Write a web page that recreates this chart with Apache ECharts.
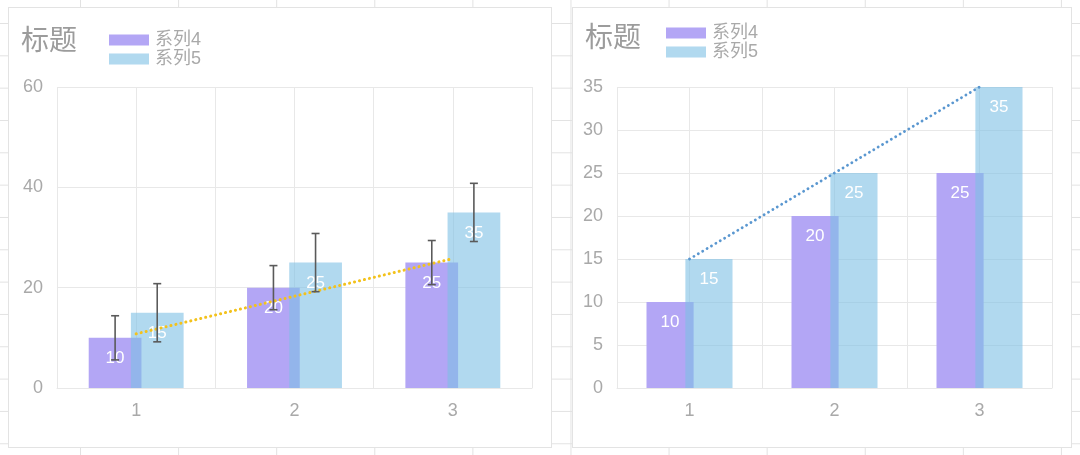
<!DOCTYPE html>
<html><head><meta charset="utf-8">
<script src="https://cdn.jsdelivr.net/npm/echarts@6/dist/echarts.min.js"></script>
<style>
html,body{margin:0;padding:0;width:1080px;height:455px;overflow:hidden;}
body{background-color:#fff;background-image:linear-gradient(to right,#e2e2e2 1px,transparent 1px),linear-gradient(to bottom,#e2e2e2 1px,transparent 1px);background-size:98.1px 32.33px;background-position:80px 23px;}
.card{position:absolute;background:#fff;border:1px solid #e3e3e3;box-sizing:border-box;}
#chart{position:absolute;left:0;top:0;width:1080px;height:455px;}
</style></head>
<body>
<div class="card" style="left:8px;top:7px;width:544px;height:441px"></div>
<div class="card" style="left:572px;top:7px;width:500px;height:441px"></div>
<div id="chart"></div>
<script>
// ---- data ----
const categories = ['1', '2', '3'];
const seriesNames = ['系列4', '系列5'];
const titleText = '标题';
// left chart
const leftSeries4 = [10, 20, 25];
const leftSeries5 = [15, 25, 35];
const leftErr4 = [4.4, 4.4, 4.4];
const leftErr5 = [5.8, 5.8, 5.8];
const leftTrend4 = [10.8, 18.3, 25.8];
const leftYTicks = [0, 20, 40, 60];
// right chart
const rightSeries4 = [10, 20, 25];
const rightSeries5 = [15, 25, 35];
const rightTrend5 = [15, 25, 35];
const rightYTicks = [0, 5, 10, 15, 20, 25, 30, 35];

// ---- styles ----
const FONT = '"Liberation Sans", "Noto Sans CJK SC", sans-serif';
const PURPLE = '#b3a6f5';
const BLUE = 'rgba(125,192,228,0.6)';
const GRIDC = '#e8e8e8';
const LABELC = '#a9a9a9';

function yAxisFrom(ticks, gridIndex) {
  return {
    type: 'value', gridIndex,
    min: ticks[0], max: ticks[ticks.length - 1], interval: ticks[1] - ticks[0],
    axisLine: { show: false }, axisTick: { show: false },
    axisLabel: { color: LABELC, fontSize: 18, fontFamily: FONT, margin: 14 },
    splitLine: { lineStyle: { color: GRIDC, width: 1 } }
  };
}
function catAxis(gridIndex) {
  return {
    type: 'category', gridIndex, data: categories,
    axisLine: { lineStyle: { color: GRIDC } }, axisTick: { show: false },
    axisLabel: { color: LABELC, fontSize: 18, fontFamily: FONT, margin: 14 },
    splitLine: { show: false }
  };
}
function helperAxis(gridIndex) {
  return {
    type: 'value', gridIndex, position: 'bottom',
    min: 0.5, max: categories.length + 0.5, interval: 0.5,
    axisLine: { show: false }, axisTick: { show: false }, axisLabel: { show: false },
    splitLine: { show: true, lineStyle: { color: GRIDC, width: 1 } }
  };
}
function barLabel() {
  return { show: true, position: 'insideTop', distance: 12, color: '#fff', fontSize: 17, fontFamily: FONT };
}
function errorBars(values, errs, offsetFrac, xAxisIndex, yAxisIndex) {
  return {
    type: 'custom', xAxisIndex, yAxisIndex, z: 6, silent: true,
    encode: { x: 0, y: [1, 2] },
    data: values.map((v, i) => [i, v - errs[i], v + errs[i]]),
    renderItem(params, api) {
      const i = api.value(0);
      const lo = api.coord([i, api.value(1)]);
      const hi = api.coord([i, api.value(2)]);
      const band = api.size([1, 0])[0];
      const x = lo[0] + band * offsetFrac;
      const cap = 4;
      const style = { stroke: '#5a5a5a', lineWidth: 1.6 };
      return {
        type: 'group', children: [
          { type: 'line', shape: { x1: x, y1: lo[1], x2: x, y2: hi[1] }, style },
          { type: 'line', shape: { x1: x - cap, y1: lo[1], x2: x + cap, y2: lo[1] }, style },
          { type: 'line', shape: { x1: x - cap, y1: hi[1], x2: x + cap, y2: hi[1] }, style }
        ]
      };
    }
  };
}

const chart = echarts.init(document.getElementById('chart'), null, { renderer: 'canvas' });
const titleStyle = { fontSize: 28, fontWeight: 'normal', color: '#9c9c9c', fontFamily: FONT };
const legendText = { color: LABELC, fontSize: 18, fontFamily: FONT, padding: [0, 0, 0, 1] };
const option = {
  backgroundColor: 'transparent',
  animation: false,
  title: [
    { text: titleText, left: 21, top: 28, padding: 0, textStyle: titleStyle },
    { text: titleText, left: 585, top: 25, padding: 0, textStyle: titleStyle }
  ],
  legend: [
    { data: seriesNames, orient: 'vertical', left: 109, top: 31, padding: 0, itemWidth: 40, itemHeight: 11, itemGap: 1,
      icon: 'rect', textStyle: legendText },
    { data: seriesNames, orient: 'vertical', left: 666, top: 24, padding: 0, itemWidth: 40, itemHeight: 11, itemGap: 1,
      icon: 'rect', textStyle: legendText }
  ],
  grid: [
    { left: 57, top: 87, width: 475, height: 301 },
    { left: 617, top: 87, width: 435, height: 301 }
  ],
  xAxis: [catAxis(0), helperAxis(0), catAxis(1), helperAxis(1)],
  yAxis: [yAxisFrom(leftYTicks, 0), yAxisFrom(rightYTicks, 1)],
  series: [
    { name: seriesNames[0], type: 'bar', xAxisIndex: 0, yAxisIndex: 0, data: leftSeries4,
      barWidth: '33.3%', itemStyle: { color: PURPLE }, label: barLabel() },
    { name: seriesNames[1], type: 'bar', xAxisIndex: 0, yAxisIndex: 0, data: leftSeries5,
      barWidth: '33.3%', barGap: '-20%', itemStyle: { color: BLUE }, label: barLabel() },
    { type: 'line', xAxisIndex: 0, yAxisIndex: 0, data: leftTrend4, symbol: 'none', z: 5, silent: true,
      lineStyle: { color: '#f3c21c', width: 3, type: [0.1, 5], cap: 'round' } },
    errorBars(leftSeries4, leftErr4, -0.133, 0, 0),
    errorBars(leftSeries5, leftErr5, 0.133, 0, 0),

    { name: seriesNames[0], type: 'bar', xAxisIndex: 2, yAxisIndex: 1, data: rightSeries4,
      barWidth: '32.5%', itemStyle: { color: PURPLE }, label: barLabel() },
    { name: seriesNames[1], type: 'bar', xAxisIndex: 2, yAxisIndex: 1, data: rightSeries5,
      barWidth: '32.5%', barGap: '-17.5%', itemStyle: { color: BLUE }, label: barLabel() },
    { type: 'line', xAxisIndex: 2, yAxisIndex: 1, data: rightTrend5, symbol: 'none', z: 5, silent: true,
      lineStyle: { color: '#5a97d0', width: 2.8, type: [0.1, 5], cap: 'round' } }
  ]
};
chart.setOption(option);
</script>
</body></html>
